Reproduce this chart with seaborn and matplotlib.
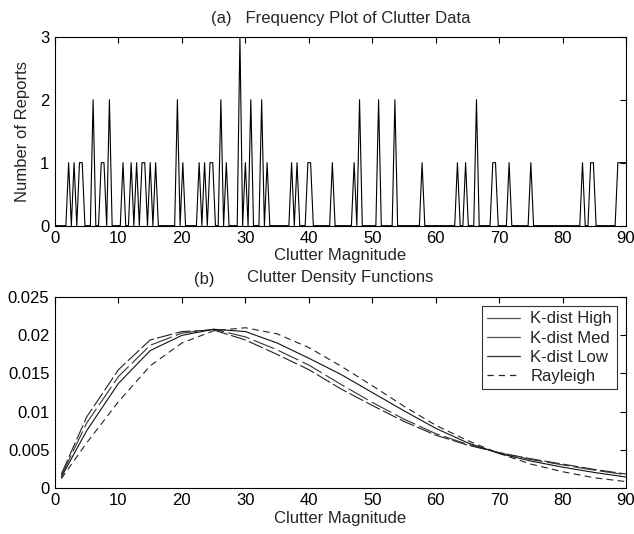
import numpy as np
import pandas as pd
import matplotlib
matplotlib.use("Agg")
import matplotlib.pyplot as plt
import seaborn as sns
from matplotlib.lines import Line2D

# ---------------- data: (a) frequency plot ----------------
bin_step = 90 / 210
report_positions = [2.23, 3.02, 4.05, 4.48, 6.16, 7.1, 7.6, 8.52, 10.6, 11.93, 12.72,
                    13.66, 14.07, 15.07, 15.86, 19.47, 20.31, 22.6, 23.75, 24.45, 24.85,
                    26.15, 27.0, 29.05, 30.05, 30.9, 32.6, 33.6, 37.1, 38.0, 39.7, 40.1,
                    43.55, 47.1, 48.1, 51.1, 53.75, 58.05, 63.5, 64.76, 66.6, 69.05, 69.5,
                    71.4, 75.0, 83.3, 84.6, 85.0, 88.9, 89.3, 89.7, 90.0]
report_counts = [1, 1, 1, 1, 2, 1, 1, 2, 1, 1, 1,
                 1, 1, 1, 1, 2, 1, 1, 1, 1, 1,
                 2, 1, 3, 1, 2, 2, 1, 1, 1, 1, 1,
                 1, 1, 2, 2, 2, 1, 1, 1, 2, 1, 1,
                 1, 1, 1, 1, 1, 1, 1, 1, 1]

# ---------------- data: (b) density functions ----------------
magnitude = [1, 5, 10, 15, 20, 25, 30, 35, 40, 45, 50, 55, 60, 65, 70, 75, 80, 85, 90]
k_high = [0.0018, 0.0093, 0.0155, 0.0194, 0.0205, 0.0207, 0.0194, 0.0175, 0.0155, 0.0130,
          0.0108, 0.0087, 0.0069, 0.0056, 0.0046, 0.0038, 0.0031, 0.0024, 0.0018]
k_med = [0.0016, 0.0085, 0.0146, 0.0187, 0.0203, 0.0208, 0.0198, 0.0181, 0.0161, 0.0136,
         0.0112, 0.0090, 0.0071, 0.0057, 0.0046, 0.0037, 0.0030, 0.0023, 0.0017]
k_low = [0.0014, 0.0075, 0.0137, 0.0180, 0.0200, 0.0208, 0.0205, 0.0190, 0.0170, 0.0149,
         0.0125, 0.0101, 0.0078, 0.0059, 0.0045, 0.0035, 0.0027, 0.0020, 0.0014]
rayleigh = [0.0012, 0.0059, 0.0113, 0.0160, 0.0190, 0.0206, 0.0210, 0.0202, 0.0184, 0.0160,
            0.0134, 0.0107, 0.0082, 0.0062, 0.0045, 0.0031, 0.0021, 0.0013, 0.0008]
series_names = ["K-dist High", "K-dist Med", "K-dist Low", "Rayleigh"]

# ---------------- build histogram line ----------------
grid = np.round(np.arange(0, 211) * bin_step, 6)
counts = np.zeros_like(grid)
for p, c in zip(report_positions, report_counts):
    counts[int(round(p / bin_step))] = c

sns.set_style("white")
plt.rcParams["font.family"] = ["Liberation Sans", "DejaVu Sans"]
FS = 12
plt.rcParams["font.size"] = FS

fig = plt.figure(figsize=(6.34, 5.34), dpi=100)
ax1 = fig.add_axes([0.0868, 0.5774, 0.9006, 0.3539])
ax2 = fig.add_axes([0.0868, 0.0867, 0.9006, 0.3566])

sns.lineplot(x=grid, y=counts, ax=ax1, color="black", lw=0.8)
ax1.set_xlim(0, 90)
ax1.set_ylim(0, 3)
ax1.set_xticks(range(0, 91, 10))
ax1.set_yticks([0, 1, 2, 3])
ax1.set_title("(a)   Frequency Plot of Clutter Data", fontsize=FS, pad=10)
ax1.set_xlabel("Clutter Magnitude", fontsize=FS, labelpad=1)
ax1.set_ylabel("Number of Reports", fontsize=FS, labelpad=7)

df = pd.DataFrame({"x": magnitude * 4,
                   "y": k_high + k_med + k_low + rayleigh,
                   "s": np.repeat(series_names, len(magnitude))})
styles = {"K-dist High": (14, 3), "K-dist Med": (20, 4), "K-dist Low": "", "Rayleigh": (6, 4)}
sns.lineplot(data=df, x="x", y="y", hue="s", style="s", dashes=styles,
             palette=["#222222", "#333333", "#111111", "#222222"], lw=0.8, ax=ax2, legend=False)
ax2.set_xlim(0, 90)
ax2.set_ylim(0, 0.025)
ax2.set_xticks(range(0, 91, 10))
ax2.set_yticks([0, 0.005, 0.01, 0.015, 0.02, 0.025])
ax2.set_yticklabels(["0", "0.005", "0.01", "0.015", "0.02", "0.025"])
ax2.set_title("Clutter Density Functions", fontsize=FS, pad=11)
ax2.text(0.262, 1.072, "(b)", transform=ax2.transAxes, fontsize=FS, ha="center", va="baseline")
ax2.set_xlabel("Clutter Magnitude", fontsize=FS, labelpad=2)
ax2.set_ylabel("")

handles = [Line2D([], [], color="#555555", lw=0.9, ls="-"),
           Line2D([], [], color="#555555", lw=0.9, ls="-"),
           Line2D([], [], color="#333333", lw=0.9, ls="-"),
           Line2D([], [], color="#222222", lw=0.9, ls=(0, (5, 4)))]
leg = ax2.legend(handles, series_names, loc="upper right", fontsize=FS, frameon=True,
                 fancybox=False, edgecolor="black", handlelength=2.0, handletextpad=0.6,
                 labelspacing=0.25, borderaxespad=0.55, borderpad=0.3)
leg.get_frame().set_linewidth(0.8)

for ax in (ax1, ax2):
    ax.tick_params(direction="in", top=True, right=True, length=4, width=0.8,
                   labelsize=FS, pad=4, colors="black")
    for sp in ax.spines.values():
        sp.set_visible(True)
        sp.set_color("black")
        sp.set_linewidth(0.8)

fig.savefig("out.png", dpi=100)
